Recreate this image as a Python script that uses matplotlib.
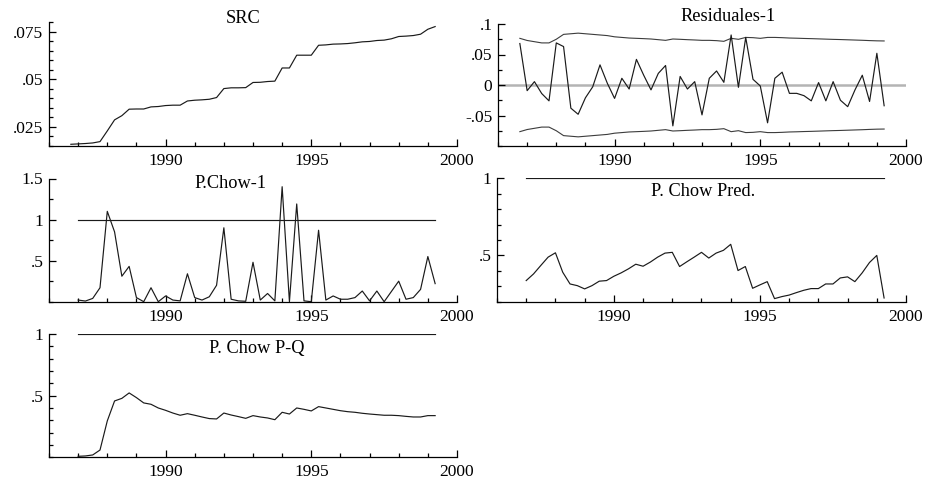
import numpy as np
import matplotlib
matplotlib.use("Agg")
import matplotlib.pyplot as plt
from matplotlib.ticker import FixedLocator, MultipleLocator, FuncFormatter

plt.rcParams["font.family"] = ["Liberation Serif", "DejaVu Serif"]

# Quarterly sample: recursive estimates 1986Q4-1999Q2, Chow tests 1987Q1-1999Q2
start_full = 1986.75
start_chow = 1987.0

src = [0.0159, 0.0161, 0.0163, 0.0166, 0.0173, 0.0229, 0.0287, 0.0309, 0.0343, 0.0344,
       0.0344, 0.0355, 0.0357, 0.0362, 0.0364, 0.0364, 0.0386, 0.0390, 0.0392, 0.0395,
       0.0404, 0.0451, 0.0455, 0.0455, 0.0456, 0.0483, 0.0484, 0.0488, 0.0490, 0.0559,
       0.0559, 0.0626, 0.0626, 0.0626, 0.0678, 0.0680, 0.0684, 0.0685, 0.0687, 0.0691,
       0.0696, 0.0698, 0.0703, 0.0705, 0.0712, 0.0724, 0.0726, 0.0729, 0.0736, 0.0762,
       0.0776]

residuals = [0.068, -0.0093, 0.0055, -0.014, -0.026, 0.069, 0.063, -0.038, -0.048, -0.021,
             -0.003, 0.033, 0.003, -0.022, 0.011, -0.0066, 0.042, 0.016, -0.008, 0.019,
             0.032, -0.067, 0.014, -0.0066, 0.0055, -0.049, 0.011, 0.023, 0.0044, 0.082,
             -0.0038, 0.078, 0.0093, -0.0016, -0.062, 0.011, 0.021, -0.0137, -0.0137, -0.0175,
             -0.026, 0.004, -0.026, 0.0055, -0.025, -0.0355, -0.008, 0.016, -0.027, 0.052,
             -0.034]

two_se = [0.0765, 0.073, 0.071, 0.069, 0.069, 0.075, 0.083, 0.084, 0.085, 0.084,
          0.083, 0.082, 0.081, 0.079, 0.078, 0.077, 0.0765, 0.076, 0.0754, 0.0743,
          0.0732, 0.0754, 0.0749, 0.0743, 0.0738, 0.0732, 0.0732, 0.0727, 0.0716, 0.0765,
          0.0749, 0.078, 0.0776, 0.0765, 0.078, 0.078, 0.0776, 0.077, 0.0767, 0.0763,
          0.076, 0.0756, 0.0752, 0.0748, 0.0745, 0.0741, 0.0737, 0.0733, 0.0728, 0.0724,
          0.0722]

chow_1 = [0.02, 0.008, 0.04, 0.17, 1.10, 0.85, 0.31, 0.43, 0.05, 0.0,
          0.17, 0.0, 0.07, 0.02, 0.01, 0.34, 0.05, 0.02, 0.06, 0.20,
          0.90, 0.03, 0.01, 0.005, 0.48, 0.02, 0.10, 0.01, 1.40, 0.0,
          1.19, 0.01, 0.0, 0.87, 0.02, 0.07, 0.03, 0.03, 0.05, 0.13,
          0.01, 0.13, 0.0, 0.125, 0.25, 0.03, 0.05, 0.15, 0.55, 0.22]

chow_pred = [0.337, 0.380, 0.435, 0.489, 0.517, 0.391, 0.315, 0.304, 0.283, 0.304,
             0.333, 0.337, 0.365, 0.387, 0.413, 0.443, 0.430, 0.457, 0.489, 0.515,
             0.520, 0.428, 0.459, 0.489, 0.520, 0.483, 0.515, 0.533, 0.572, 0.402,
             0.428, 0.287, 0.309, 0.330, 0.220, 0.233, 0.243, 0.259, 0.274, 0.285,
             0.285, 0.315, 0.315, 0.354, 0.361, 0.330, 0.387, 0.454, 0.500, 0.224]

chow_pq = [0.008, 0.011, 0.019, 0.059, 0.295, 0.457, 0.478, 0.522, 0.484, 0.441,
           0.430, 0.400, 0.381, 0.359, 0.341, 0.354, 0.341, 0.327, 0.314, 0.311,
           0.359, 0.343, 0.330, 0.316, 0.338, 0.327, 0.319, 0.305, 0.365, 0.351,
           0.400, 0.389, 0.376, 0.411, 0.400, 0.389, 0.378, 0.370, 0.365, 0.357,
           0.351, 0.346, 0.341, 0.341, 0.338, 0.332, 0.327, 0.327, 0.338, 0.338]

crit_level = 1.0
year_ticks = [1990, 1995, 2000]

t_full = start_full + 0.25 * np.arange(len(src))
t_chow = start_chow + 0.25 * np.arange(len(chow_1))

W, H = 929, 482
fig = plt.figure(figsize=(W / 100, H / 100), dpi=100)


def px_axes(x0, x1, ytop, ybot):
    return fig.add_axes([x0 / W, 1 - ybot / H, (x1 - x0) / W, (ybot - ytop) / H])


def short_num(v, _pos=None):
    s = f"{v:g}"
    if s.startswith("0."):
        s = s[1:]
    elif s.startswith("-0."):
        s = "-" + s[2:]
    return s


def style(ax, ylim, ymajor, ystep):
    ax.set_xlim(1986, 2000)
    ax.set_ylim(*ylim)
    for side in ("top", "right"):
        ax.spines[side].set_visible(False)
    for side in ("left", "bottom"):
        ax.spines[side].set_linewidth(0.9)
    ax.xaxis.set_major_locator(FixedLocator(year_ticks))
    ax.xaxis.set_minor_locator(MultipleLocator(1))
    ax.yaxis.set_major_locator(FixedLocator(ymajor))
    ax.yaxis.set_minor_locator(MultipleLocator(ystep))
    ax.yaxis.set_major_formatter(FuncFormatter(short_num))
    ax.tick_params(axis="both", which="both", direction="in", labelsize=12.5,
                   colors="black", width=0.9)
    ax.tick_params(axis="both", which="major", length=5)
    ax.tick_params(axis="both", which="minor", length=3)
    ax.tick_params(axis="x", which="major", pad=5)
    ax.tick_params(axis="y", which="major", pad=4)
    ax.patch.set_alpha(0)


line_kw = dict(color="#1a1a1a", lw=0.85)
title_kw = dict(fontsize=13.2, ha="center", va="center")

# SRC
ax1 = px_axes(49, 457, 22, 146)
style(ax1, (0.015, 0.08), [0.025, 0.05, 0.075], 0.005)
ax1.plot(t_full, src, **line_kw)
ax1.text(0.475, 1.025, "SRC", transform=ax1.transAxes, **title_kw)

# Residuales-1 with +/- 2 SE bands
ax2 = px_axes(498, 906, 24, 146)
style(ax2, (-0.1, 0.1), [-0.05, 0, 0.05, 0.1], 0.025)
ax2.axhline(0, color="#b4b4b4", lw=1.8, zorder=1)
band = np.array(two_se)
ax2.plot(t_full, band, color="#3c3c3c", lw=0.8)
ax2.plot(t_full, -band, color="#3c3c3c", lw=0.8)
ax2.plot(t_full, residuals, **line_kw)
ax2.text(0.563, 1.06, "Residuales-1", transform=ax2.transAxes, **title_kw)

# P.Chow-1
ax3 = px_axes(49, 457, 178.5, 301.7)
style(ax3, (0, 1.5), [0.5, 1, 1.5], 0.25)
ax3.plot([t_chow[0], t_chow[-1]], [crit_level, crit_level], **line_kw)
ax3.plot(t_chow, chow_1, **line_kw)
ax3.text(0.444, 0.957, "P.Chow-1", transform=ax3.transAxes, **title_kw)

# P. Chow Pred.
ax4 = px_axes(497, 906, 178.3, 301.7)
style(ax4, (0.2, 1.0), [0.5, 1], 0.1)
ax4.plot([t_chow[0], t_chow[-1]], [crit_level, crit_level], **line_kw)
ax4.plot(t_chow, chow_pred, **line_kw)
ax4.text(0.504, 0.891, "P. Chow Pred.", transform=ax4.transAxes, **title_kw)

# P. Chow P-Q
ax5 = px_axes(49, 457, 334, 457.3)
style(ax5, (0, 1.0), [0.5, 1], 0.1)
ax5.plot([t_chow[0], t_chow[-1]], [crit_level, crit_level], **line_kw)
ax5.plot(t_chow, chow_pq, **line_kw)
ax5.text(0.509, 0.884, "P. Chow P-Q", transform=ax5.transAxes, **title_kw)

fig.savefig("out.png", dpi=100, facecolor="white")
